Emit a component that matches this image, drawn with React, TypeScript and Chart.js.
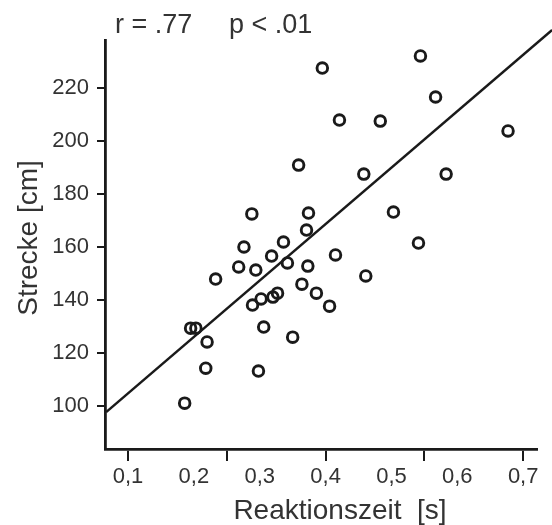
import React, { useEffect, useRef } from "react";
import { Chart, registerables } from "chart.js";

Chart.register(...registerables);

// Reaction time [s] and distance [cm] per subject
const reactionTime = [
  0.395, 0.544, 0.567, 0.421, 0.483, 0.677, 0.359, 0.458, 0.583, 0.288,
  0.374, 0.503, 0.371, 0.276, 0.336, 0.541, 0.268, 0.294, 0.318, 0.342,
  0.373, 0.415, 0.461, 0.233, 0.364, 0.386, 0.406, 0.289, 0.302, 0.32,
  0.327, 0.195, 0.203, 0.306, 0.22, 0.35, 0.218, 0.298, 0.186,
];
const distance = [
  227.5, 232.1, 216.6, 207.9, 207.5, 203.8, 190.9, 187.5, 187.5, 172.5,
  172.8, 173.2, 166.4, 160.0, 161.9, 161.5, 152.5, 151.3, 156.6, 154.0,
  152.8, 157.0, 149.1, 147.9, 146.0, 142.6, 137.7, 138.1, 140.4, 141.1,
  142.6, 129.4, 129.4, 129.8, 124.2, 126.0, 114.3, 113.2, 101.1,
];

// Regression line end points
const fitX = [0.0667, 0.744];
const fitY = [97.7, 241.9];

// Axis ticks
const xLabelTicks = [0.1, 0.2, 0.3, 0.4, 0.5, 0.6, 0.7];
const xMarkTicks = [0.1, 0.25, 0.4, 0.55, 0.7];
const yTicks = [100, 120, 140, 160, 180, 200, 220];

const statText = ["r = .77", "p < .01"];
const xTitle = "Reaktionszeit  [s]";
const yTitle = "Strecke [cm]";

const near = (arr: number[], v: number) => arr.some((a) => Math.abs(a - v) < 1e-6);

export default function App() {
  const ref = useRef<HTMLCanvasElement | null>(null);

  useEffect(() => {
    if (!ref.current) return;
    const ink = "#1a1a1a";
    const textCol = "#333333";
    const fontFam = '"Liberation Sans", Arial, sans-serif';

    const textPlugin = {
      id: "textPlugin",
      afterDraw(chart: any) {
        const ctx = chart.ctx;
        ctx.save();
        ctx.fillStyle = textCol;
        ctx.textBaseline = "alphabetic";
        ctx.font = `27px ${fontFam}`;
        ctx.textAlign = "left";
        ctx.fillText(statText[0], 115, 33);
        ctx.fillText(statText[1], 229, 33);
        ctx.font = `28px ${fontFam}`;
        ctx.textAlign = "center";
        ctx.fillText(xTitle, 340, 519);
        ctx.translate(37, 238);
        ctx.rotate(-Math.PI / 2);
        ctx.fillText(yTitle, 0, 0);
        ctx.restore();
      },
    };

    const allXTicks = Array.from(new Set([...xLabelTicks, ...xMarkTicks])).sort((a, b) => a - b);

    const chart = new Chart(ref.current, {
      type: "scatter",
      data: {
        datasets: [
          {
            type: "scatter",
            data: reactionTime.map((x, i) => ({ x, y: distance[i] })),
            pointStyle: "circle",
            pointRadius: 5.3,
            pointBorderWidth: 2.9,
            pointBorderColor: ink,
            pointBackgroundColor: "rgba(255,255,255,0)",
          } as any,
          {
            type: "line",
            data: fitX.map((x, i) => ({ x, y: fitY[i] })),
            borderColor: ink,
            borderWidth: 2.5,
            pointRadius: 0,
            fill: false,
            clip: false,
          } as any,
        ],
      },
      options: {
        responsive: false,
        animation: false,
        layout: { padding: { left: 0, right: 15, top: 40, bottom: 0 } },
        plugins: {
          legend: { display: false },
          tooltip: { enabled: false },
        },
        scales: {
          x: {
            type: "linear",
            min: 0.065,
            max: 0.721,
            afterBuildTicks: (scale: any) => {
              scale.ticks = allXTicks.map((v) => ({ value: v }));
            },
            afterFit: (scale: any) => {
              scale.height = 76;
            },
            border: { display: true, color: ink, width: 2.8 },
            grid: {
              drawOnChartArea: false,
              drawTicks: true,
              tickLength: 12,
              lineWidth: 2,
              color: (c: any) => (c.tick && near(xMarkTicks, c.tick.value) ? ink : "rgba(0,0,0,0)"),
            },
            ticks: {
              autoSkip: false,
              maxRotation: 0,
              padding: 3,
              color: textCol,
              font: { family: fontFam, size: 22 },
              callback: (v: any) => (near(xLabelTicks, Number(v)) ? Number(v).toFixed(1).replace(".", ",") : ""),
            },
          },
          y: {
            type: "linear",
            min: 83.8,
            max: 238.1,
            afterBuildTicks: (scale: any) => {
              scale.ticks = yTicks.map((v) => ({ value: v }));
            },
            afterFit: (scale: any) => {
              scale.width = 105;
            },
            border: { display: true, color: ink, width: 2.8 },
            grid: {
              drawOnChartArea: false,
              drawTicks: true,
              tickLength: 8,
              lineWidth: 2,
              color: ink,
            },
            ticks: {
              autoSkip: false,
              padding: 8,
              color: textCol,
              font: { family: fontFam, size: 22 },
              callback: (v: any) => String(v),
            },
          },
        },
      } as any,
      plugins: [textPlugin],
    });

    return () => chart.destroy();
  }, []);

  return (
    <div style={{ position: "absolute", left: 0, top: 0, width: 552, height: 525, background: "#fff" }}>
      <canvas ref={ref} width={552} height={525} />
    </div>
  );
}
